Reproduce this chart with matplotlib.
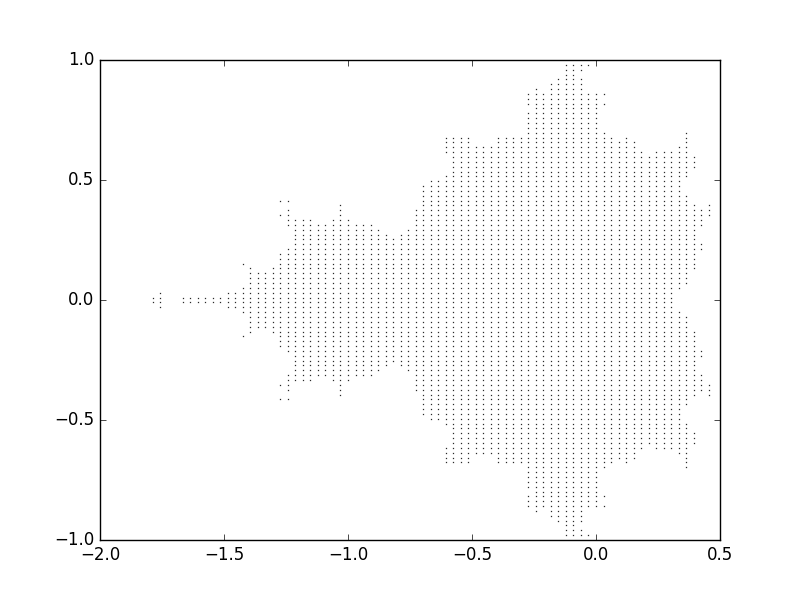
import numpy as np
import matplotlib
matplotlib.use("Agg")
import matplotlib.pyplot as plt

plt.style.use("classic")

# Lattice of sample points (100 x 100)
x_grid = np.linspace(-2.0, 1.0, 100)
y_grid = np.linspace(-1.0, 1.0, 100)

# Column index (into x_grid) and the runs of occupied row indices
# (into y_grid, counted from the top, upper half only; the lower half mirrors it)
col_index = list(range(7, 82))
col_runs = [
    [(49, 49)],                      # 7
    [(48, 49)],                      # 8
    [],                              # 9
    [],                              # 10
    [(49, 49)],                      # 11
    [(49, 49)],                      # 12
    [(49, 49)],                      # 13
    [(49, 49)],                      # 14
    [(49, 49)],                      # 15
    [(49, 49)],                      # 16
    [(48, 49)],                      # 17
    [(48, 49)],                      # 18
    [(42, 42), (47, 49)],            # 19
    [(43, 49)],                      # 20
    [(44, 49)],                      # 21
    [(44, 49)],                      # 22
    [(43, 49)],                      # 23
    [(29, 29), (32, 32), (40, 49)],  # 24
    [(29, 29), (31, 34), (39, 49)],  # 25
    [(33, 49)],                      # 26
    [(33, 49)],                      # 27
    [(33, 49)],                      # 28
    [(34, 49)],                      # 29
    [(34, 49)],                      # 30
    [(33, 49)],                      # 31
    [(30, 49)],                      # 32
    [(33, 49)],                      # 33
    [(34, 49)],                      # 34
    [(34, 49)],                      # 35
    [(34, 49)],                      # 36
    [(35, 49)],                      # 37
    [(36, 49)],                      # 38
    [(37, 49)],                      # 39
    [(36, 49)],                      # 40
    [(35, 49)],                      # 41
    [(31, 49)],                      # 42
    [(26, 49)],                      # 43
    [(25, 49)],                      # 44
    [(25, 49)],                      # 45
    [(16, 19), (24, 49)],            # 46
    [(16, 49)],                      # 47
    [(16, 49)],                      # 48
    [(16, 49)],                      # 49
    [(18, 49)],                      # 50
    [(18, 49)],                      # 51
    [(18, 49)],                      # 52
    [(16, 49)],                      # 53
    [(16, 49)],                      # 54
    [(16, 49)],                      # 55
    [(16, 49)],                      # 56
    [(7, 9), (11, 49)],              # 57
    [(6, 49)],                       # 58
    [(7, 49)],                       # 59
    [(5, 49)],                       # 60
    [(4, 49)],                       # 61
    [(1, 49)],                       # 62
    [(1, 49)],                       # 63
    [(1, 2), (4, 49)],               # 64
    [(1, 1), (7, 49)],               # 65
    [(7, 49)],                       # 66
    [(7, 7), (9, 9), (15, 49)],      # 67
    [(16, 49)],                      # 68
    [(17, 49)],                      # 69
    [(16, 49)],                      # 70
    [(17, 49)],                      # 71
    [(19, 49)],                      # 72
    [(20, 49)],                      # 73
    [(19, 49)],                      # 74
    [(19, 49)],                      # 75
    [(19, 49)],                      # 76
    [(18, 47)],                      # 77
    [(15, 24), (28, 46)],            # 78
    [(20, 22), (30, 43)],            # 79
    [(31, 34), (38, 39)],            # 80
    [(30, 32)],                      # 81
]

n_rows = len(y_grid)
xs, ys = [], []
for ci, runs in zip(col_index, col_runs):
    for a, b in runs:
        for j in range(a, b + 1):
            for jj in (j, n_rows - 1 - j):
                xs.append(x_grid[ci])
                ys.append(y_grid[n_rows - 1 - jj])

fig = plt.figure(figsize=(8, 6), dpi=100)
ax = fig.add_subplot(111)
ax.plot(xs, ys, linestyle="none", marker="s", markersize=0.9,
        markeredgewidth=0, color="#2a2a2a", antialiased=False)
ax.set_xlim(-2.0, 0.5)
ax.set_ylim(-1.0, 1.0)
ax.set_xticks([-2.0, -1.5, -1.0, -0.5, 0.0, 0.5])
ax.set_yticks([-1.0, -0.5, 0.0, 0.5, 1.0])
fig.savefig("out.png", dpi=100, facecolor="white")
